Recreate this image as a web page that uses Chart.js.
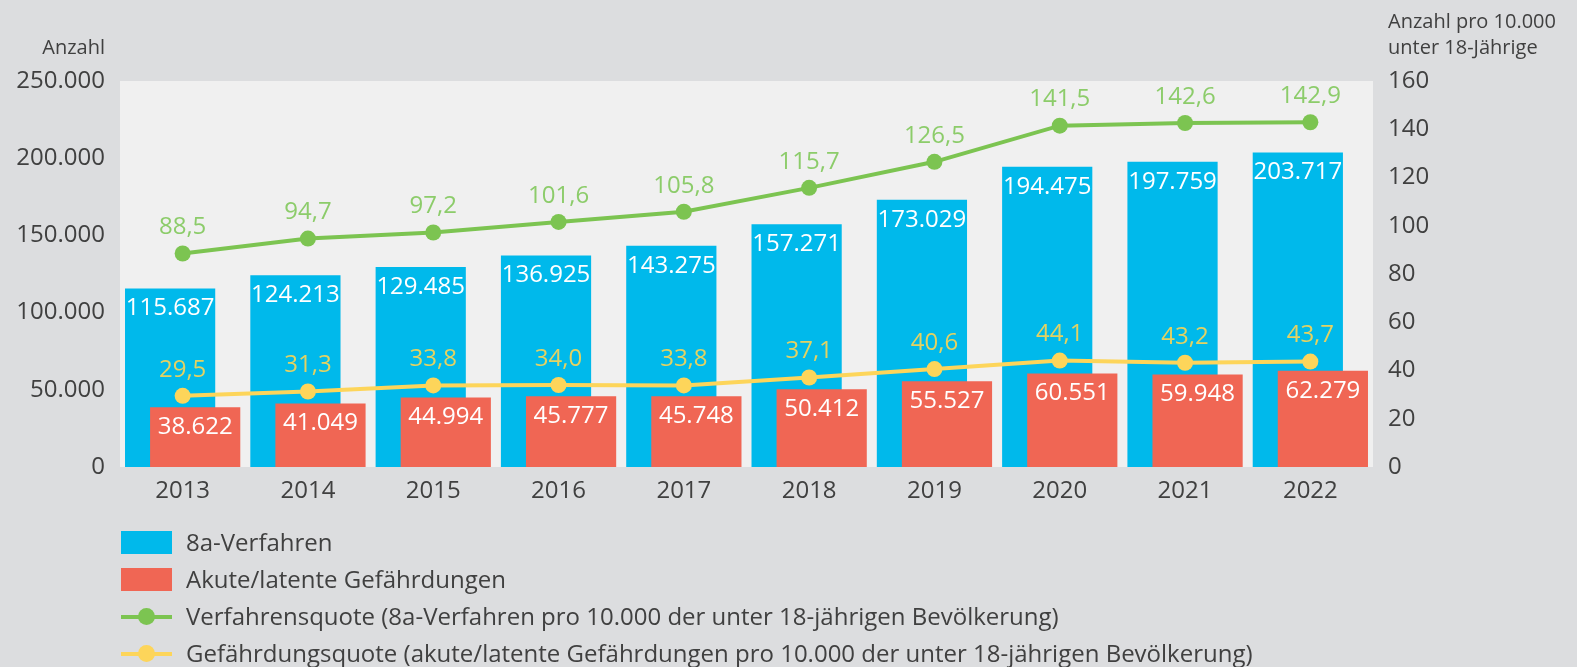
<!DOCTYPE html>
<html lang="de">
<head>
<meta charset="utf-8">
<title>8a-Verfahren und Gefährdungen</title>
<script src="https://cdn.jsdelivr.net/npm/chart.js@4/dist/chart.umd.min.js"></script>
<style>
    body { margin: 0; background: #dcdddf; font-family: "Open Sans", sans-serif; }
    #wrap { position: relative; width: 1577px; height: 667px; }
    #legend { position: absolute; left: 121px; top: 531px; margin: 0; padding: 0; list-style: none; }
    #legend li { height: 37px; position: relative; font-size: 24px; color: #404040; white-space: nowrap; }
    #legend .sym { position: absolute; left: 0; top: 0; width: 51px; height: 23px; }
    #legend .txt { position: absolute; left: 65px; top: -5px; line-height: 32px; }
    #legend .ln { position: absolute; left: 0; top: 10px; width: 51px; height: 4px; }
    #legend .dot { position: absolute; left: 17px; top: 3px; width: 17px; height: 17px; border-radius: 50%; }
</style>
</head>
<body>
<div id="wrap">
    <canvas id="chartVerfahren" width="1577" height="667"></canvas>
    <ul id="legend"></ul>
</div>
<script>
const years = ['2013', '2014', '2015', '2016', '2017', '2018', '2019', '2020', '2021', '2022'];
const verfahren = [115687, 124213, 129485, 136925, 143275, 157271, 173029, 194475, 197759, 203717];
const gefaehrdungen = [38622, 41049, 44994, 45777, 45748, 50412, 55527, 60551, 59948, 62279];
const verfahrensquote = [88.5, 94.7, 97.2, 101.6, 105.8, 115.7, 126.5, 141.5, 142.6, 142.9];
const gefaehrdungsquote = [29.5, 31.3, 33.8, 34.0, 33.8, 37.1, 40.6, 44.1, 43.2, 43.7];
const seriesNames = [
    '8a-Verfahren',
    'Akute/latente Gefährdungen',
    'Verfahrensquote (8a-Verfahren pro 10.000 der unter 18-jährigen Bevölkerung)',
    'Gefährdungsquote (akute/latente Gefährdungen pro 10.000 der unter 18-jährigen Bevölkerung)'
];
const leftTicks = [0, 50000, 100000, 150000, 200000, 250000];
const rightTicks = [0, 20, 40, 60, 80, 100, 120, 140, 160];

const blue = '#00b9eb', red = '#f06654', green = '#7cc451', yellow = '#fdd55a';
const font = '"Open Sans", sans-serif';
const BLUE_IDX = 2, RED_IDX = 3;

function tausend(v) {
    return String(Math.round(v)).replace(/\B(?=(\d{3})+(?!\d))/g, '.');
}
function komma(v) {
    return v.toFixed(1).replace('.', ',');
}

// hintergrund + plotfläche
const bgPlugin = {
    id: 'bg',
    beforeDraw(chart) {
        const {ctx, chartArea: a} = chart;
        ctx.save();
        ctx.fillStyle = '#dcdddf';
        ctx.fillRect(0, 0, chart.width, chart.height);
        ctx.fillStyle = '#f0f0f0';
        ctx.fillRect(a.left, a.top, a.right - a.left, a.bottom - a.top);
        ctx.restore();
    }
};

// rote balken sollen über den blauen liegen (chart.js zeichnet sonst andersrum)
const overlapPlugin = {
    id: 'overlap',
    beforeDatasetDraw(chart, args) {
        if (args.index === RED_IDX && !chart.$redNow) return false;
    },
    afterDatasetDraw(chart, args) {
        if (args.index !== BLUE_IDX) return;
        const meta = chart.getDatasetMeta(RED_IDX);
        chart.$redNow = true;
        meta.controller.draw();
        chart.$redNow = false;
    }
};

// werte an balken und punkten
const labelPlugin = {
    id: 'werte',
    afterDatasetsDraw(chart) {
        const ctx = chart.ctx;
        ctx.save();
        ctx.font = '24px ' + font;
        ctx.textAlign = 'center';
        ctx.textBaseline = 'middle';
        chart.data.datasets.forEach((ds, i) => {
            if (!ds.valueLabel) return;
            const meta = chart.getDatasetMeta(i);
            meta.data.forEach((el, j) => {
                const v = ds.data[j];
                if (v == null) return;
                ctx.fillStyle = ds.valueLabel.color;
                if (ds.type === 'line') {
                    ctx.fillText(komma(v), el.x, el.y - 26);
                } else {
                    ctx.fillText(tausend(v), el.x, el.y + 20);
                }
            });
        });
        ctx.restore();
    }
};

// achsentitel
const titlePlugin = {
    id: 'achsentitel',
    afterDraw(chart) {
        const ctx = chart.ctx;
        const a = chart.chartArea;
        ctx.save();
        ctx.font = '20px ' + font;
        ctx.fillStyle = '#404040';
        ctx.textBaseline = 'middle';
        ctx.textAlign = 'right';
        ctx.fillText('Anzahl', a.left - 15, 48);
        ctx.textAlign = 'left';
        ctx.fillText('Anzahl pro 10.000', a.right + 15, 22);
        ctx.fillText('unter 18-Jährige', a.right + 15, 48);
        ctx.restore();
    }
};

let chartVerfahren = new Chart(document.getElementById('chartVerfahren'), {
    type: 'bar',
    data: {
        labels: years,
        datasets: [
            {
                type: 'line', label: seriesNames[2], data: verfahrensquote, yAxisID: 'y2', order: 0,
                borderColor: green, backgroundColor: green, borderWidth: 4, pointRadius: 8,
                pointBackgroundColor: green, pointBorderWidth: 0, tension: 0,
                valueLabel: {color: '#8ccc6a'}
            },
            {
                type: 'line', label: seriesNames[3], data: gefaehrdungsquote, yAxisID: 'y2', order: 0,
                borderColor: yellow, backgroundColor: yellow, borderWidth: 4, pointRadius: 8,
                pointBackgroundColor: yellow, pointBorderWidth: 0, tension: 0,
                valueLabel: {color: '#e4d262'}
            },
            {
                label: seriesNames[0], data: verfahren, order: 1,
                backgroundColor: blue, valueLabel: {color: '#ffffff'}
            },
            {
                label: seriesNames[1], data: gefaehrdungen, order: 1,
                backgroundColor: red, valueLabel: {color: '#ffffff'}
            }
        ]
    },
    options: {
        responsive: false,
        animation: false,
        maintainAspectRatio: false,
        datasets: {
            bar: {categoryPercentage: 0.4, barPercentage: 3.6, borderWidth: 0}
        },
        layout: {padding: {top: 81, left: 0, right: 0, bottom: 0}},
        plugins: {
            legend: {display: false},
            tooltip: {enabled: false}
        },
        scales: {
            x: {
                position: 'bottom',
                grid: {display: false, drawTicks: false},
                border: {display: false},
                ticks: {color: '#404040', font: {family: font, size: 24}, padding: 10},
                afterFit: s => { s.height = 200; }
            },
            y: {
                position: 'left',
                min: 0, max: 250000,
                afterBuildTicks: s => { s.ticks = leftTicks.map(v => ({value: v})); },
                grid: {display: false, drawTicks: false},
                border: {display: false},
                ticks: {color: '#404040', font: {family: font, size: 24}, padding: 15, callback: v => tausend(v)},
                afterFit: s => { s.width = 120; }
            },
            y2: {
                position: 'right',
                min: 0, max: 160,
                afterBuildTicks: s => { s.ticks = rightTicks.map(v => ({value: v})); },
                grid: {display: false, drawTicks: false},
                border: {display: false},
                ticks: {color: '#404040', font: {family: font, size: 24}, padding: 15},
                afterFit: s => { s.width = 204; }
            }
        }
    },
    plugins: [bgPlugin, overlapPlugin, labelPlugin, titlePlugin]
});

// legende als html, senkrecht
let legendItems = [
    {name: seriesNames[0], color: blue, kind: 'box'},
    {name: seriesNames[1], color: red, kind: 'box'},
    {name: seriesNames[2], color: green, kind: 'line'},
    {name: seriesNames[3], color: yellow, kind: 'line'}
];
let elem = [];
legendItems.forEach(it => {
    elem.push('<li>');
    if (it.kind === 'box') {
        elem.push('<span class="sym" style="background:' + it.color + '"></span>');
    } else {
        elem.push('<span class="sym"><span class="ln" style="background:' + it.color + '"></span>' +
            '<span class="dot" style="background:' + it.color + '"></span></span>');
    }
    elem.push('<span class="txt">' + it.name + '</span></li>');
});
document.getElementById('legend').innerHTML = elem.join('');
</script>
</body>
</html>
